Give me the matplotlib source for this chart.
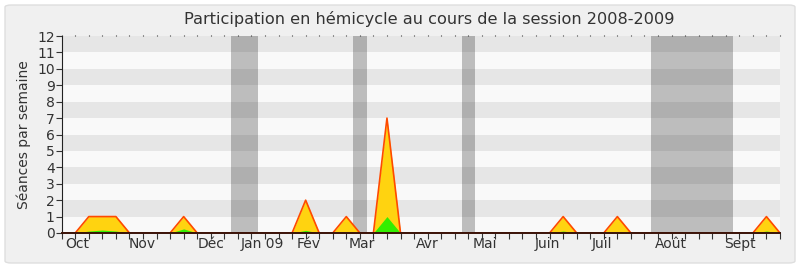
import matplotlib
matplotlib.use("Agg")
import matplotlib.pyplot as plt
from matplotlib.patches import FancyBboxPatch

# Weekly data, session 2008-2009 (week index 0 = start of October)
weeks = list(range(54))
presence = [0] * 54
for w, v in {2: 1, 3: 1, 4: 1, 9: 1, 18: 2, 21: 1, 24: 7, 37: 1, 41: 1, 52: 1}.items():
    presence[w] = v
interventions = [0] * 54
for w, v in {2: 0.12, 3: 0.18, 4: 0.12, 9: 0.25, 18: 0.16, 21: 0.06, 24: 1.0,
             37: 0.12, 41: 0.05, 52: 0.12}.items():
    interventions[w] = v

# Parliamentary recess periods (in weeks)
vacances = [(12.5, 14.5), (21.5, 22.5), (29.5, 30.5), (43.5, 49.5)]

month_labels = ["Oct", "Nov", "Déc", "Jan 09", "Fév", "Mar", "Avr", "Mai",
                "Juin", "Juil", "Août", "Sept"]
month_pos = [0.25, 4.97, 10.02, 13.2, 17.3, 21.2, 26.1, 30.3, 34.9, 39.1, 43.8, 48.9]

y_ticks = list(range(13))

W, H = 800, 267
fig = plt.figure(figsize=(W / 100, H / 100), dpi=100)
fig.patch.set_facecolor("white")
fig.patches.append(FancyBboxPatch((5 / W, 4 / H), 790 / W, 258 / H,
                                  boxstyle="round,pad=0,rounding_size=0.008",
                                  transform=fig.transFigure, facecolor="#f0f0f0",
                                  edgecolor="#dedede", linewidth=1.0, zorder=-10))

ax = fig.add_axes([61.7 / W, 1 - 233 / H, (780 - 61.7) / W, (233 - 36) / H])
ax.set_facecolor("#f9f9f9")
ax.set_xlim(0, 53)
ax.set_ylim(0, 12)
ax.xaxis.remove_overlapping_locs = False

# horizontal stripes
for y0 in range(1, 12, 2):
    ax.axhspan(y0, y0 + 1, color="#e6e6e6", lw=0, zorder=0)

for a, b in vacances:
    ax.axvspan(a, b, color="black", alpha=0.24, lw=0, zorder=1)

ax.fill_between(weeks, presence, color="#ffd310", lw=0, zorder=2)
ax.fill_between(weeks, interventions, color="#33ee00", lw=0, zorder=3)
ax.plot(weeks, presence, color="#ff4a00", lw=1.2, zorder=4)

for s in ["top", "right"]:
    ax.spines[s].set_visible(False)
ax.spines["left"].set_color("#222222")
ax.spines["bottom"].set_color("#3a1208")
ax.spines["bottom"].set_linewidth(1.4)
ax.spines["bottom"].set_zorder(5)

ax.set_yticks(y_ticks)
ax.set_yticklabels([str(v) for v in y_ticks])
ax.set_xticks(weeks)
ax.set_xticklabels([])
ax.set_xticks(month_pos, minor=True)
ax.set_xticklabels(month_labels, minor=True, ha="left")
ax.tick_params(axis="x", which="major", direction="out", length=4, width=0.8,
               color="#333333", top=True)
ax.tick_params(axis="x", which="minor", length=0, pad=3, labelsize=10,
               labelcolor="#333333")
ax.tick_params(axis="y", direction="out", length=4, width=0.8, color="#333333",
               labelsize=10, labelcolor="#333333", pad=1)
for t in ax.xaxis.get_major_ticks():
    t.tick2line.set_markersize(1)
    t.tick2line.set_color("#333333")

ax.set_ylabel("Séances par semaine", fontsize=10, color="#333333", labelpad=4)
fig.text(429 / W, 1 - 19 / H, "Participation en hémicycle au cours de la session 2008-2009",
         ha="center", va="center", fontsize=11.6, color="#333333")

fig.savefig("out.png", dpi=100, facecolor=fig.get_facecolor())
